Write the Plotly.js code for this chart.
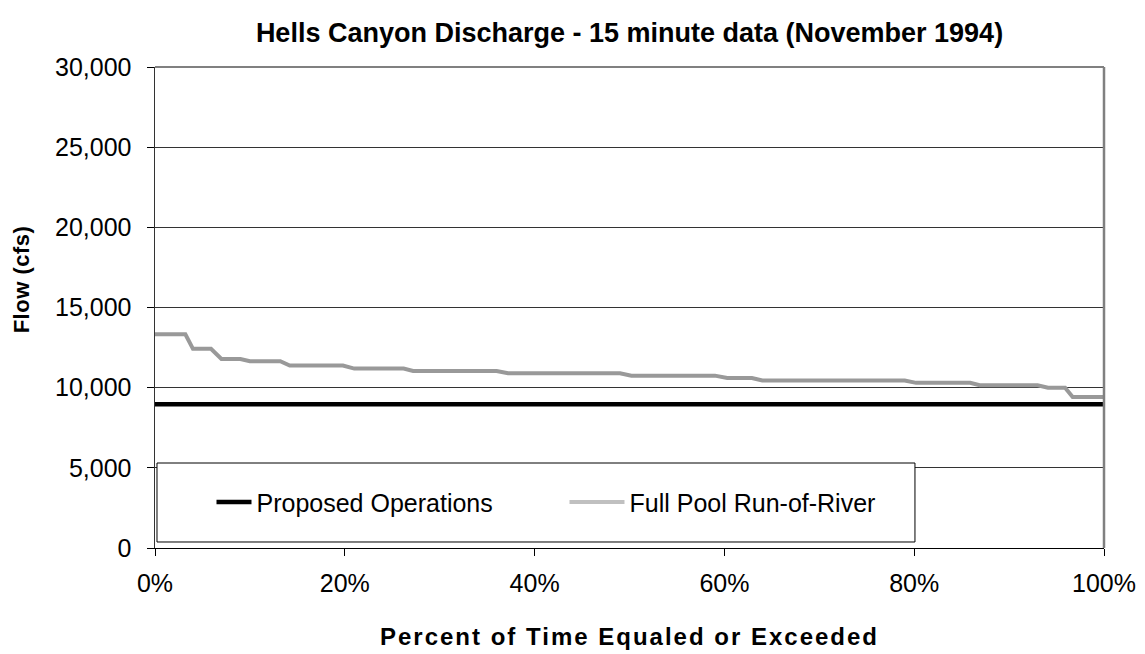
<!DOCTYPE html>
<html>
<head>
<meta charset="utf-8">
<script src="https://cdn.plot.ly/plotly-3.0.1.min.js"></script>
<style>
html,body{margin:0;padding:0;background:#fff;}
#chart{width:1145px;height:654px;}
.xtitle{letter-spacing:2px;}
.ytitle{letter-spacing:0.5px;}
</style>
</head>
<body>
<div id="chart"></div>
<script>
// Percent of time equaled or exceeded (%)
var proposedX = [0, 100];
var proposedY = [8960, 8960];

var fullPoolX = [0, 3.2, 4.0, 5.9, 7.0, 9.0, 10.0, 13.2, 14.2, 19.8, 21.0, 26.2, 27.2, 36.0, 37.2, 49.0, 50.2, 59.0, 60.3, 62.9, 64.0, 79.0, 80.2, 85.9, 86.9, 93.0, 94.1, 95.9, 96.7, 100];
var fullPoolY = [13330, 13330, 12420, 12420, 11790, 11790, 11650, 11650, 11380, 11380, 11190, 11190, 11040, 11040, 10900, 10900, 10750, 10750, 10600, 10600, 10450, 10450, 10300, 10300, 10150, 10150, 10000, 10000, 9420, 9420];

var seriesNames = ["Proposed Operations", "Full Pool Run-of-River"];
var titleText = "Hells Canyon Discharge - 15 minute data (November 1994)";
var xTitle = "Percent of Time Equaled or Exceeded";
var yTitle = "Flow (cfs)";
var xTickVals = [0, 20, 40, 60, 80, 100];
var xTickText = ["0%", "20%", "40%", "60%", "80%", "100%"];
var yTickVals = [0, 5000, 10000, 15000, 20000, 25000, 30000];
var yTickText = ["0", "5,000", "10,000", "15,000", "20,000", "25,000", "30,000"];

var fontFam = "Liberation Sans, Arial, sans-serif";

var traces = [
  {x: proposedX, y: proposedY, mode: "lines", name: seriesNames[0],
   line: {color: "#000000", width: 4.5}},
  {x: fullPoolX, y: fullPoolY, mode: "lines", name: seriesNames[1],
   line: {color: "#999999", width: 4}}
];

var layout = {
  width: 1145, height: 654,
  margin: {l: 155, r: 41, t: 67, b: 106},
  paper_bgcolor: "#ffffff", plot_bgcolor: "#ffffff",
  font: {family: fontFam, color: "#000", size: 25},
  title: {text: "<b>" + titleText + "</b>", font: {family: fontFam, size: 27, color: "#000"},
          x: 0.5, xanchor: "center", xref: "paper", y: 1 - 33 / 654, yanchor: "middle", yref: "container"},
  xaxis: {
    range: [0, 100], tickvals: xTickVals, ticktext: xTickText,
    showgrid: false, zeroline: false, showline: true, linecolor: "#000", linewidth: 1,
    ticks: "outside", ticklen: 7, tickcolor: "#000", tickfont: {size: 25},
    ticklabelstandoff: 6,
    title: {text: "<b>" + xTitle + "</b>", font: {size: 24}, standoff: 32},
    fixedrange: true
  },
  yaxis: {
    range: [0, 30000], tickvals: yTickVals, ticktext: yTickText,
    showgrid: true, gridcolor: "#333333", gridwidth: 1, zeroline: false,
    showline: true, linecolor: "#333", linewidth: 1.5,
    ticks: "outside", ticklen: 7, tickcolor: "#000", tickfont: {size: 25},
    ticklabelstandoff: 10,
    title: {text: "<b>" + yTitle + "</b>", font: {size: 22}, standoff: 19},
    fixedrange: true
  },
  shapes: [
    {type: "line", xref: "paper", yref: "paper", x0: 0, x1: 1, y0: 1, y1: 1, line: {color: "#808080", width: 2}},
    {type: "line", xref: "paper", yref: "paper", x0: 1, x1: 1, y0: 0, y1: 1, line: {color: "#808080", width: 2.5}},
    {type: "rect", xref: "paper", yref: "paper", x0: 0.0021, x1: 0.8008, y0: 0.0125, y1: 0.1767,
     line: {color: "#000", width: 1}, fillcolor: "rgba(255,255,255,1)", layer: "above"}
  ],
  legend: {orientation: "h", x: 0.0648, y: 0.095, xanchor: "left", yanchor: "middle",
           bgcolor: "rgba(0,0,0,0)", borderwidth: 0, font: {size: 25},
           entrywidth: 328, entrywidthmode: "pixels", tracegroupgap: 0},
  showlegend: true
};

Plotly.newPlot("chart", traces, layout, {displayModeBar: false, staticPlot: true}).then(function () {
  // lengthen legend line samples like the original (about 55 px)
  var paths = document.querySelectorAll(".legend .legendlines path");
  paths.forEach(function (p, i) {
    p.setAttribute("d", "M-20,0h55");
    if (i === 1) { p.style.stroke = "#c0c0c0"; }
  });
  // the original's y title sits a little above the plot centre
  var yt = document.querySelector(".ytitle");
  if (yt) {
    var tr = yt.getAttribute("transform") || "";
    yt.setAttribute("transform", tr + " translate(28,0)");
  }
});
</script>
</body>
</html>
